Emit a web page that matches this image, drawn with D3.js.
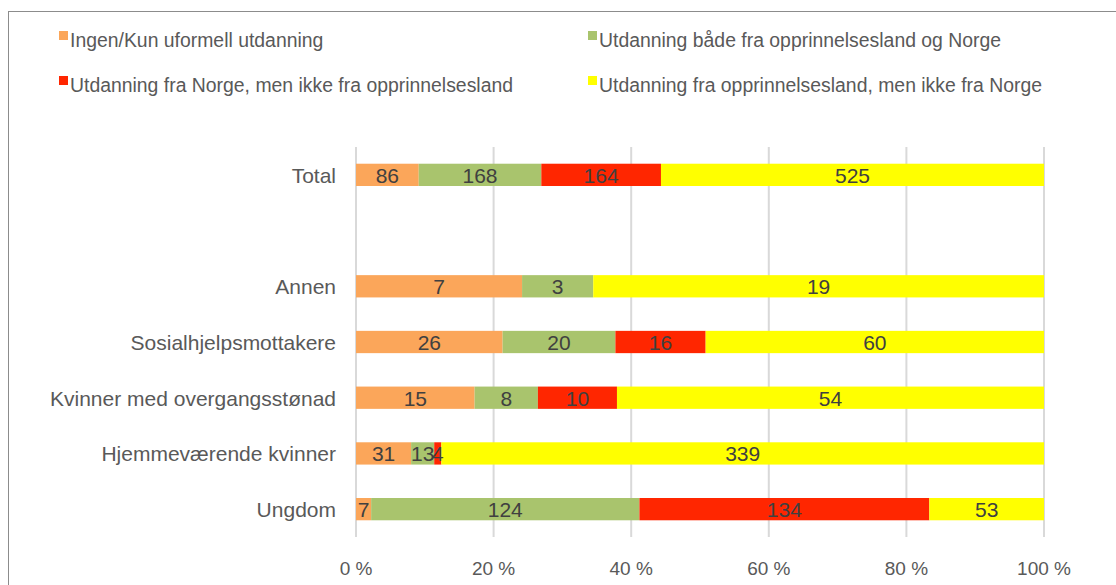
<!DOCTYPE html>
<html><head><meta charset="utf-8">
<script src="https://cdn.jsdelivr.net/npm/d3@7"></script>
<style>body{margin:0;background:#fff}svg{display:block}text{font-family:"Liberation Sans",Arial,sans-serif}</style>
</head><body><svg id="c" width="1116" height="585"></svg>
<script>
const categories = ["Total", "", "Annen", "Sosialhjelpsmottakere", "Kvinner med overgangsstønad", "Hjemmeværende kvinner", "Ungdom"];
const seriesNames = ["Ingen/Kun uformell utdanning", "Utdanning både fra opprinnelsesland og Norge", "Utdanning fra Norge, men ikke fra opprinnelsesland", "Utdanning fra opprinnelsesland, men ikke fra Norge"];
const ingen   = [86, null, 7, 26, 15, 31, 7];
const begge   = [168, null, 3, 20, 8, 13, 124];
const norge   = [164, null, 0, 16, 10, 4, 134];
const opprinn = [525, null, 19, 60, 54, 339, 53];
const tickLabels = ["0 %", "20 %", "40 %", "60 %", "80 %", "100 %"];
const colors = ["#FBA65A", "#A9C46D", "#FF2600", "#FFFF00"];

const svg = d3.select("#c");
svg.append("rect").attr("x",8.5).attr("y",11.5).attr("width",1200).attr("height",700)
  .attr("fill","none").attr("stroke","#8c8c8c").attr("stroke-width",1);

const x = d3.scaleLinear().domain([0,1]).range([356,1044]);
const y = d3.scaleBand().domain(categories.map((c,i)=>i)).range([147,537]).paddingInner(0.6).paddingOuter(0.3);

// gridlines
svg.append("g").selectAll("line").data(d3.range(0,1.0001,0.2)).join("line")
  .attr("x1",d=>x(d)).attr("x2",d=>x(d)).attr("y1",147).attr("y2",537)
  .attr("stroke","#d9d9d9").attr("stroke-width",2);

const series = [ingen, begge, norge, opprinn];
categories.forEach((c,i)=>{
  if (ingen[i]===null) return;
  const total = series.reduce((s,a)=>s+a[i],0);
  let cum = 0;
  series.forEach((arr,k)=>{
    const v = arr[i];
    const x0 = x(cum/total), x1 = x((cum+v)/total);
    cum += v;
    if (v===0) return;
    svg.append("rect").attr("x",x0).attr("y",y(i)).attr("width",x1-x0).attr("height",y.bandwidth()).attr("fill",colors[k]);
  });
  cum = 0;
  series.forEach((arr,k)=>{
    const v = arr[i];
    const x0 = x(cum/total), x1 = x((cum+v)/total);
    cum += v;
    if (v===0) return;
    svg.append("text").attr("x",(x0+x1)/2).attr("y",y(i)+y.bandwidth()/2+8)
      .attr("text-anchor","middle").attr("font-size",21).attr("fill","#404040").text(v);
  });
  svg.append("text").attr("x",336).attr("y",y(i)+y.bandwidth()/2+8).attr("text-anchor","end")
    .attr("font-size",21).attr("fill","#595959").text(c);
});

// x axis labels
svg.append("g").selectAll("text").data(tickLabels).join("text")
  .attr("x",(d,i)=>x(i*0.2)).attr("y",575).attr("text-anchor","middle")
  .attr("font-size",19).attr("fill","#595959").text(d=>d);

// legend
const legPos = [[59,47],[588,47],[59,92],[588,92]];
seriesNames.forEach((n,k)=>{
  const [lx,ly] = legPos[k];
  svg.append("rect").attr("x",lx).attr("y",ly-16).attr("width",9).attr("height",9).attr("fill",colors[k]);
  svg.append("text").attr("x",lx+11).attr("y",ly).attr("font-size",19.4).attr("fill","#595959").text(n);
});
</script></body></html>
